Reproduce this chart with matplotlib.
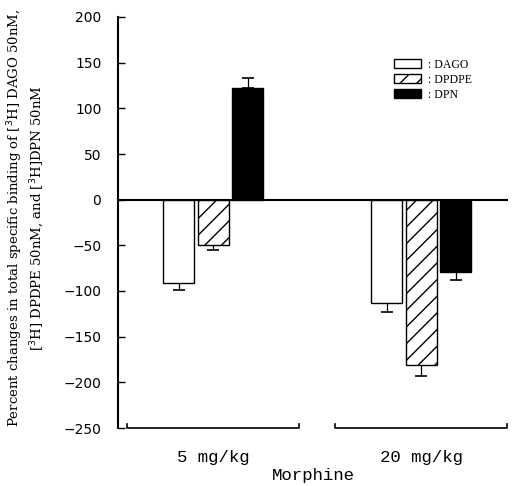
import matplotlib
matplotlib.use("Agg")
import matplotlib.pyplot as plt
import numpy as np
from matplotlib.patches import Patch

groups = ["5 mg/kg", "20 mg/kg"]
series = ["DAGO", "DPDPE", "DPN"]
dago = [-91, -113]
dpdpe = [-50, -181]
dpn = [122, -79]
dago_err = [8, 10]
dpdpe_err = [5, 12]
dpn_err = [11, 9]
yticks = [-250, -200, -150, -100, -50, 0, 50, 100, 150, 200]

values = [dago, dpdpe, dpn]
errors = [dago_err, dpdpe_err, dpn_err]
faces = ["white", "white", "black"]
hatches = [None, "//", None]

fig = plt.figure(figsize=(5.22, 4.86), dpi=100)
ax = fig.add_axes([118/522, 1-428/486, (508-118)/522, (428-17)/486])

x = np.arange(len(groups))
w = 0.149
step = 0.166
for i, (vals, errs) in enumerate(zip(values, errors)):
    pos = x + (i - 1) * step
    ax.bar(pos, vals, width=w, color=faces[i], edgecolor="black", linewidth=1.0,
           hatch=hatches[i], zorder=2)
    yerr_low = [e if v < 0 else 0 for v, e in zip(vals, errs)]
    yerr_high = [e if v > 0 else 0 for v, e in zip(vals, errs)]
    ax.errorbar(pos, vals, yerr=[yerr_low, yerr_high], fmt="none", ecolor="black",
                elinewidth=0.9, capsize=4, capthick=1.2, zorder=1)

ax.axhline(0, color="black", linewidth=1.5, zorder=4)

ax.set_xlim(-0.457, 1.418)
ax.set_ylim(-250, 200)
ax.set_yticks(yticks)
ax.set_yticklabels([str(t).replace("-", "\u2212") for t in yticks],
                   fontfamily="DejaVu Sans", fontsize=10)
ax.tick_params(axis="y", direction="in", length=5, width=1, pad=12)
ax.set_xticks(x)
ax.set_xticklabels(groups, fontfamily="Liberation Mono", fontsize=12.5)
ax.tick_params(axis="x", length=0, pad=16)
for s in ["top", "right", "bottom"]:
    ax.spines[s].set_visible(False)
ax.spines["left"].set_linewidth(1.5)

# group brackets at bottom
half = 0.413
for g in x:
    xs = [g - half, g - half, g + half, g + half]
    ys = [-246, -250, -250, -246]
    ax.plot(xs, ys, color="black", linewidth=1.2, clip_on=False, zorder=5)

ax.set_xlabel("Morphine", fontfamily="Liberation Mono", fontsize=12.5, labelpad=2)
ax.set_ylabel("Percent changes in total specific binding of [$^{3}$H] DAGO 50nM,\n"
              "[$^{3}$H] DPDPE 50nM, and [$^{3}$H]DPN 50nM",
              fontfamily="DejaVu Serif", fontsize=9.5, linespacing=1.3)
ax.yaxis.set_label_coords(-0.183, 0.51)

handles = [Patch(facecolor=faces[i], edgecolor="black", hatch=hatches[i], linewidth=1.0)
           for i in range(3)]
leg = ax.legend(handles, [": " + s for s in series], loc="upper left",
                bbox_to_anchor=(0.708, 0.898), frameon=False,
                prop={"family": "Liberation Serif", "size": 8.5},
                handlelength=2.3, handleheight=0.75, labelspacing=0.25, handletextpad=0.6,
                borderaxespad=0, borderpad=0)

fig.savefig("out.png", dpi=100)
